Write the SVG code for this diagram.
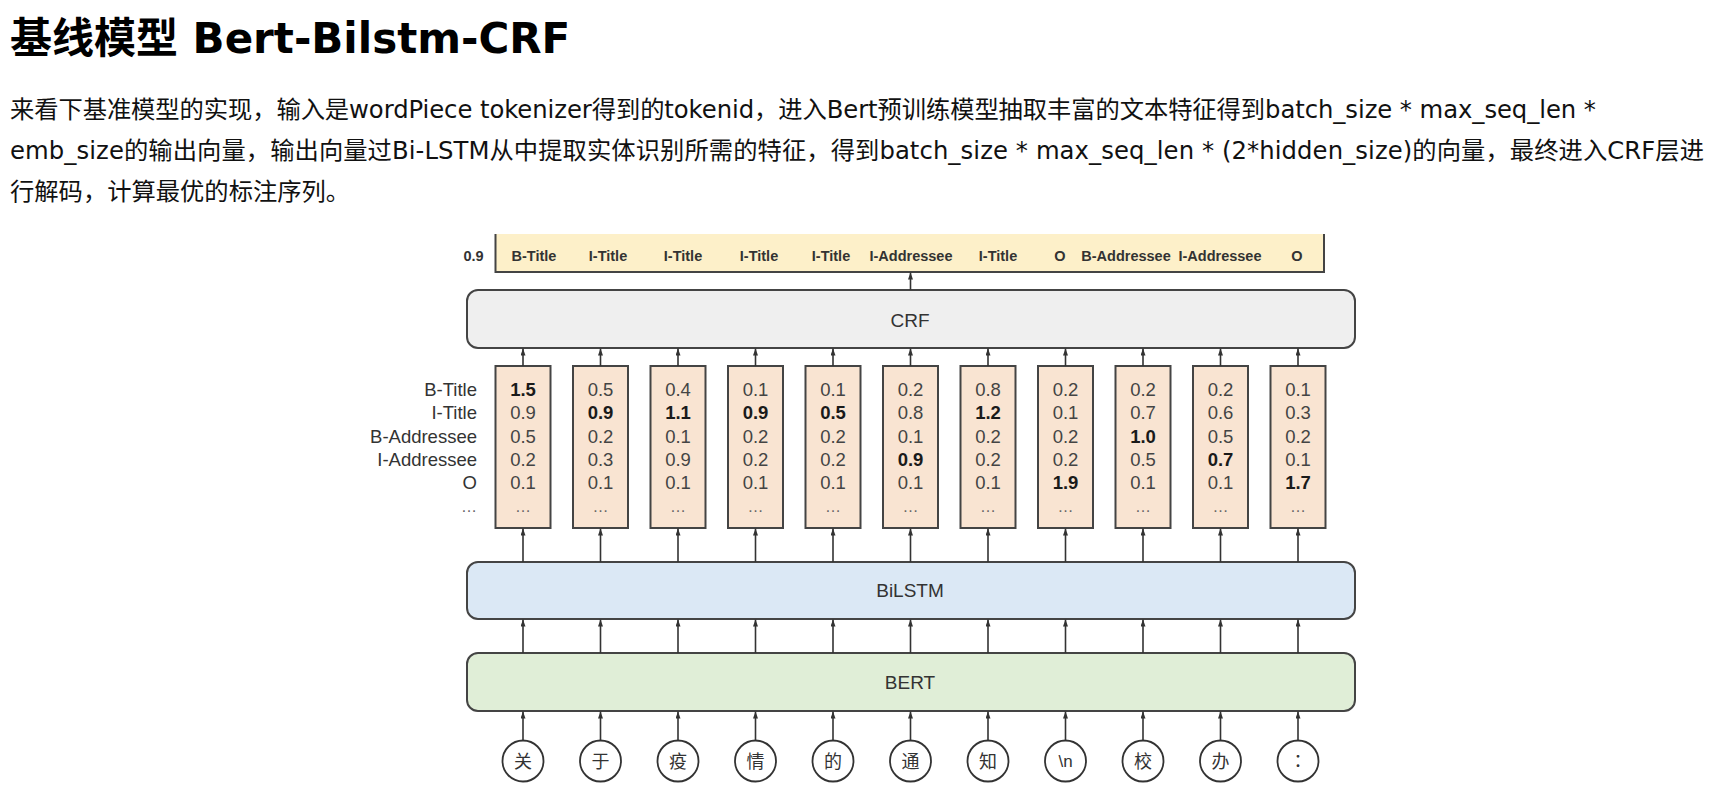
<svg xmlns="http://www.w3.org/2000/svg" width="1720" height="798" viewBox="0 0 1720 798">
  <style>
    .title { font-family: "DejaVu Sans", "Noto Sans CJK SC", sans-serif; font-size: 42px; font-weight: bold; fill: #000; }
    .para { font-family: "DejaVu Sans", "Noto Sans CJK SC", sans-serif; font-size: 24.3px; fill: #111; }
    .lbl { font-family: "Liberation Sans", Arial, sans-serif; font-size: 19px; fill: #333; text-anchor: middle; }
    .tag { font-family: "Liberation Sans", Arial, sans-serif; font-size: 14.5px; font-weight: bold; fill: #333; text-anchor: middle; }
    .row { font-family: "Liberation Sans", Arial, sans-serif; font-size: 18.5px; fill: #333; text-anchor: end; }
    .num { font-family: "Liberation Sans", Arial, sans-serif; font-size: 18.5px; fill: #444; text-anchor: middle; }
    .num .b { font-weight: bold; fill: #1a1a1a; }
    .dots { font-family: "Liberation Sans", Arial, sans-serif; font-size: 16px; fill: #666; text-anchor: middle; }
    .layer { stroke: #444; stroke-width: 2; }
    .score { fill: #f9e4d2; stroke: #444; stroke-width: 2; }
    .tok { fill: #fff; stroke: #333; stroke-width: 1.8; }
    .ch { font-family: "Noto Sans CJK SC", sans-serif; font-size: 18px; fill: #333; text-anchor: middle; }
    .conn line { stroke: #333; stroke-width: 1.6; marker-end: url(#arr); }
  </style>
  <defs>
    <marker id="arr" viewBox="0 0 10 10" refX="10" refY="5" markerWidth="7" markerHeight="5" markerUnits="userSpaceOnUse" orient="auto" preserveAspectRatio="none">
      <path d="M0,0 L10,5 L0,10 z" fill="#333"/>
    </marker>
  </defs>

  <rect width="1720" height="798" fill="#fff"/>

  <!-- heading and description -->
  <text class="title" x="10" y="53">基线模型 Bert-Bilstm-CRF</text>
  <text class="para" x="10" y="118" textLength="1586" lengthAdjust="spacing">来看下基准模型的实现，输入是wordPiece tokenizer得到的tokenid，进入Bert预训练模型抽取丰富的文本特征得到batch_size * max_seq_len *</text>
  <text class="para" x="10" y="159" textLength="1694" lengthAdjust="spacing">emb_size的输出向量，输出向量过Bi-LSTM从中提取实体识别所需的特征，得到batch_size * max_seq_len * (2*hidden_size)的向量，最终进入CRF层进</text>
  <text class="para" x="10" y="200">行解码，计算最优的标注序列。</text>

  <!-- decoded tag sequence -->
  <g id="output">
    <rect x="495" y="234" width="829" height="38" fill="#fdf0c9"/>
    <path d="M495.5,234 V272 H1324 V234" fill="none" stroke="#444" stroke-width="2"/>
    <text class="tag" x="473.5" y="261">0.9</text>
    <text class="tag" x="534" y="261">B-Title</text>
    <text class="tag" x="608" y="261">I-Title</text>
    <text class="tag" x="683" y="261">I-Title</text>
    <text class="tag" x="759" y="261">I-Title</text>
    <text class="tag" x="831" y="261">I-Title</text>
    <text class="tag" x="911" y="261">I-Addressee</text>
    <text class="tag" x="998" y="261">I-Title</text>
    <text class="tag" x="1060" y="261">O</text>
    <text class="tag" x="1126" y="261">B-Addressee</text>
    <text class="tag" x="1220" y="261">I-Addressee</text>
    <text class="tag" x="1297" y="261">O</text>
  </g>

  <!-- CRF layer -->
  <g id="crf">
    <rect class="layer" x="467" y="290" width="888" height="58" rx="11" fill="#efefef"/>
    <text class="lbl" x="910" y="327">CRF</text>
  </g>

  <!-- emission score row labels -->
  <g id="row-labels">
    <text class="row" x="477" y="396">B-Title</text>
    <text class="row" x="477" y="419.3">I-Title</text>
    <text class="row" x="477" y="442.6">B-Addressee</text>
    <text class="row" x="477" y="466">I-Addressee</text>
    <text class="row" x="477" y="489.3">O</text>
    <text class="row" x="477" y="512" style="font-size:16px;fill:#666">…</text>
  </g>

  <!-- emission score columns -->
  <g id="score-1">
    <rect class="score" x="495.5" y="366" width="55" height="162"/>
    <text class="num"><tspan class="b" x="523" y="396">1.5</tspan><tspan x="523" y="419.3">0.9</tspan><tspan x="523" y="442.6">0.5</tspan><tspan x="523" y="466">0.2</tspan><tspan x="523" y="489.3">0.1</tspan></text>
    <text class="dots" x="523" y="512">…</text>
  </g>
  <g id="score-2">
    <rect class="score" x="573" y="366" width="55" height="162"/>
    <text class="num"><tspan x="600.5" y="396">0.5</tspan><tspan class="b" x="600.5" y="419.3">0.9</tspan><tspan x="600.5" y="442.6">0.2</tspan><tspan x="600.5" y="466">0.3</tspan><tspan x="600.5" y="489.3">0.1</tspan></text>
    <text class="dots" x="600.5" y="512">…</text>
  </g>
  <g id="score-3">
    <rect class="score" x="650.5" y="366" width="55" height="162"/>
    <text class="num"><tspan x="678" y="396">0.4</tspan><tspan class="b" x="678" y="419.3">1.1</tspan><tspan x="678" y="442.6">0.1</tspan><tspan x="678" y="466">0.9</tspan><tspan x="678" y="489.3">0.1</tspan></text>
    <text class="dots" x="678" y="512">…</text>
  </g>
  <g id="score-4">
    <rect class="score" x="728" y="366" width="55" height="162"/>
    <text class="num"><tspan x="755.5" y="396">0.1</tspan><tspan class="b" x="755.5" y="419.3">0.9</tspan><tspan x="755.5" y="442.6">0.2</tspan><tspan x="755.5" y="466">0.2</tspan><tspan x="755.5" y="489.3">0.1</tspan></text>
    <text class="dots" x="755.5" y="512">…</text>
  </g>
  <g id="score-5">
    <rect class="score" x="805.5" y="366" width="55" height="162"/>
    <text class="num"><tspan x="833" y="396">0.1</tspan><tspan class="b" x="833" y="419.3">0.5</tspan><tspan x="833" y="442.6">0.2</tspan><tspan x="833" y="466">0.2</tspan><tspan x="833" y="489.3">0.1</tspan></text>
    <text class="dots" x="833" y="512">…</text>
  </g>
  <g id="score-6">
    <rect class="score" x="883" y="366" width="55" height="162"/>
    <text class="num"><tspan x="910.5" y="396">0.2</tspan><tspan x="910.5" y="419.3">0.8</tspan><tspan x="910.5" y="442.6">0.1</tspan><tspan class="b" x="910.5" y="466">0.9</tspan><tspan x="910.5" y="489.3">0.1</tspan></text>
    <text class="dots" x="910.5" y="512">…</text>
  </g>
  <g id="score-7">
    <rect class="score" x="960.5" y="366" width="55" height="162"/>
    <text class="num"><tspan x="988" y="396">0.8</tspan><tspan class="b" x="988" y="419.3">1.2</tspan><tspan x="988" y="442.6">0.2</tspan><tspan x="988" y="466">0.2</tspan><tspan x="988" y="489.3">0.1</tspan></text>
    <text class="dots" x="988" y="512">…</text>
  </g>
  <g id="score-8">
    <rect class="score" x="1038" y="366" width="55" height="162"/>
    <text class="num"><tspan x="1065.5" y="396">0.2</tspan><tspan x="1065.5" y="419.3">0.1</tspan><tspan x="1065.5" y="442.6">0.2</tspan><tspan x="1065.5" y="466">0.2</tspan><tspan class="b" x="1065.5" y="489.3">1.9</tspan></text>
    <text class="dots" x="1065.5" y="512">…</text>
  </g>
  <g id="score-9">
    <rect class="score" x="1115.5" y="366" width="55" height="162"/>
    <text class="num"><tspan x="1143" y="396">0.2</tspan><tspan x="1143" y="419.3">0.7</tspan><tspan class="b" x="1143" y="442.6">1.0</tspan><tspan x="1143" y="466">0.5</tspan><tspan x="1143" y="489.3">0.1</tspan></text>
    <text class="dots" x="1143" y="512">…</text>
  </g>
  <g id="score-10">
    <rect class="score" x="1193" y="366" width="55" height="162"/>
    <text class="num"><tspan x="1220.5" y="396">0.2</tspan><tspan x="1220.5" y="419.3">0.6</tspan><tspan x="1220.5" y="442.6">0.5</tspan><tspan class="b" x="1220.5" y="466">0.7</tspan><tspan x="1220.5" y="489.3">0.1</tspan></text>
    <text class="dots" x="1220.5" y="512">…</text>
  </g>
  <g id="score-11">
    <rect class="score" x="1270.5" y="366" width="55" height="162"/>
    <text class="num"><tspan x="1298" y="396">0.1</tspan><tspan x="1298" y="419.3">0.3</tspan><tspan x="1298" y="442.6">0.2</tspan><tspan x="1298" y="466">0.1</tspan><tspan class="b" x="1298" y="489.3">1.7</tspan></text>
    <text class="dots" x="1298" y="512">…</text>
  </g>

  <!-- BiLSTM layer -->
  <g id="bilstm">
    <rect class="layer" x="467" y="562" width="888" height="57" rx="11" fill="#dbe8f5"/>
    <text class="lbl" x="910" y="597">BiLSTM</text>
  </g>

  <!-- BERT encoder -->
  <g id="bert">
    <rect class="layer" x="467" y="653" width="888" height="58" rx="11" fill="#e0eed7"/>
    <text class="lbl" x="910" y="689">BERT</text>
  </g>

  <!-- input tokens -->
  <g id="tok-1"><circle class="tok" cx="523" cy="761" r="20.5"/><text class="ch" x="523" y="767.5">关</text></g>
  <g id="tok-2"><circle class="tok" cx="600.5" cy="761" r="20.5"/><text class="ch" x="600.5" y="767.5">于</text></g>
  <g id="tok-3"><circle class="tok" cx="678" cy="761" r="20.5"/><text class="ch" x="678" y="767.5">疫</text></g>
  <g id="tok-4"><circle class="tok" cx="755.5" cy="761" r="20.5"/><text class="ch" x="755.5" y="767.5">情</text></g>
  <g id="tok-5"><circle class="tok" cx="833" cy="761" r="20.5"/><text class="ch" x="833" y="767.5">的</text></g>
  <g id="tok-6"><circle class="tok" cx="910.5" cy="761" r="20.5"/><text class="ch" x="910.5" y="767.5">通</text></g>
  <g id="tok-7"><circle class="tok" cx="988" cy="761" r="20.5"/><text class="ch" x="988" y="767.5">知</text></g>
  <g id="tok-8"><circle class="tok" cx="1065.5" cy="761" r="20.5"/><text class="ch" x="1065.5" y="767" style="font-family:'Liberation Sans',Arial,sans-serif;font-size:17px">\n</text></g>
  <g id="tok-9"><circle class="tok" cx="1143" cy="761" r="20.5"/><text class="ch" x="1143" y="767.5">校</text></g>
  <g id="tok-10"><circle class="tok" cx="1220.5" cy="761" r="20.5"/><text class="ch" x="1220.5" y="767.5">办</text></g>
  <g id="tok-11"><circle class="tok" cx="1298" cy="761" r="20.5"/><text class="ch" x="1298" y="767.5" style="font-family:'Noto Sans CJK TC',sans-serif">：</text></g>

  <!-- connectors -->
  <g id="connectors" class="conn">
    <line x1="910.5" y1="290" x2="910.5" y2="272.5"/>

    <line x1="523" y1="366" x2="523" y2="348.5"/>
    <line x1="600.5" y1="366" x2="600.5" y2="348.5"/>
    <line x1="678" y1="366" x2="678" y2="348.5"/>
    <line x1="755.5" y1="366" x2="755.5" y2="348.5"/>
    <line x1="833" y1="366" x2="833" y2="348.5"/>
    <line x1="910.5" y1="366" x2="910.5" y2="348.5"/>
    <line x1="988" y1="366" x2="988" y2="348.5"/>
    <line x1="1065.5" y1="366" x2="1065.5" y2="348.5"/>
    <line x1="1143" y1="366" x2="1143" y2="348.5"/>
    <line x1="1220.5" y1="366" x2="1220.5" y2="348.5"/>
    <line x1="1298" y1="366" x2="1298" y2="348.5"/>

    <line x1="523" y1="562" x2="523" y2="528.5"/>
    <line x1="600.5" y1="562" x2="600.5" y2="528.5"/>
    <line x1="678" y1="562" x2="678" y2="528.5"/>
    <line x1="755.5" y1="562" x2="755.5" y2="528.5"/>
    <line x1="833" y1="562" x2="833" y2="528.5"/>
    <line x1="910.5" y1="562" x2="910.5" y2="528.5"/>
    <line x1="988" y1="562" x2="988" y2="528.5"/>
    <line x1="1065.5" y1="562" x2="1065.5" y2="528.5"/>
    <line x1="1143" y1="562" x2="1143" y2="528.5"/>
    <line x1="1220.5" y1="562" x2="1220.5" y2="528.5"/>
    <line x1="1298" y1="562" x2="1298" y2="528.5"/>

    <line x1="523" y1="653" x2="523" y2="619.5"/>
    <line x1="600.5" y1="653" x2="600.5" y2="619.5"/>
    <line x1="678" y1="653" x2="678" y2="619.5"/>
    <line x1="755.5" y1="653" x2="755.5" y2="619.5"/>
    <line x1="833" y1="653" x2="833" y2="619.5"/>
    <line x1="910.5" y1="653" x2="910.5" y2="619.5"/>
    <line x1="988" y1="653" x2="988" y2="619.5"/>
    <line x1="1065.5" y1="653" x2="1065.5" y2="619.5"/>
    <line x1="1143" y1="653" x2="1143" y2="619.5"/>
    <line x1="1220.5" y1="653" x2="1220.5" y2="619.5"/>
    <line x1="1298" y1="653" x2="1298" y2="619.5"/>

    <line x1="523" y1="740.5" x2="523" y2="711.5"/>
    <line x1="600.5" y1="740.5" x2="600.5" y2="711.5"/>
    <line x1="678" y1="740.5" x2="678" y2="711.5"/>
    <line x1="755.5" y1="740.5" x2="755.5" y2="711.5"/>
    <line x1="833" y1="740.5" x2="833" y2="711.5"/>
    <line x1="910.5" y1="740.5" x2="910.5" y2="711.5"/>
    <line x1="988" y1="740.5" x2="988" y2="711.5"/>
    <line x1="1065.5" y1="740.5" x2="1065.5" y2="711.5"/>
    <line x1="1143" y1="740.5" x2="1143" y2="711.5"/>
    <line x1="1220.5" y1="740.5" x2="1220.5" y2="711.5"/>
    <line x1="1298" y1="740.5" x2="1298" y2="711.5"/>
  </g>
</svg>
